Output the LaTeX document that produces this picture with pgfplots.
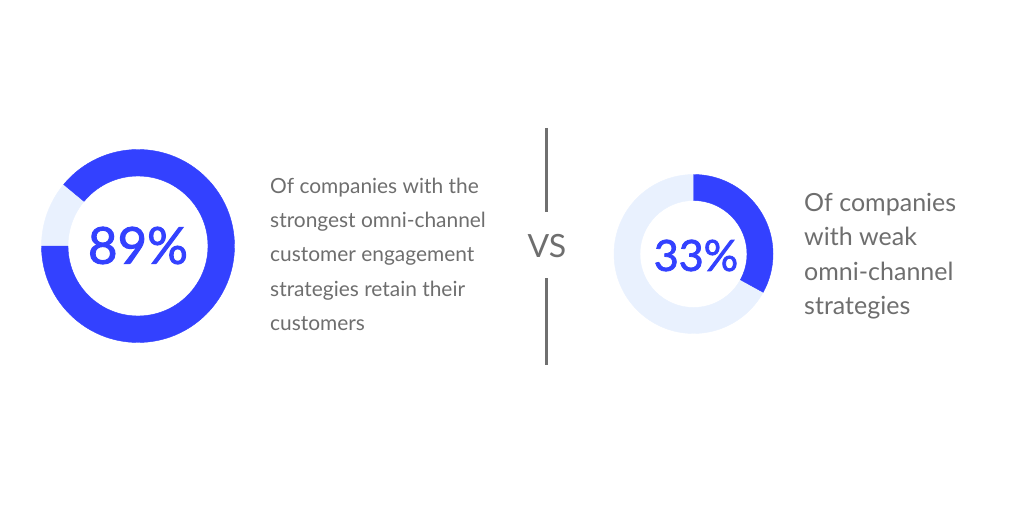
\documentclass[border=0pt]{standalone}
\usepackage{pgfplots}
\pgfplotsset{compat=1.18}
\usepackage{pgfplotstable}
\usepackage{fontspec}
\setmainfont{Lato}
\newfontfamily\numfont{Lato}[FakeBold=1.8]
\definecolor{donutblue}{HTML}{3341FF}
\definecolor{donutlight}{HTML}{E9F1FE}
\definecolor{txtgray}{HTML}{6E6E6E}
\definecolor{linegray}{HTML}{707070}

\pgfplotstableread{
x y pct rout rin start dir fs tx ty
138 266 89 96.5 70 180 1 51 0 0.5
693.5 258 33 79.5 53.5 90 -1 43 2.5 -1.5
}\donuts

\newcommand\donut{%
  \begin{tikzpicture}
    \pgfmathsetmacro\endang{\start+\dir*3.6*\pct}
    \fill[donutlight, even odd rule] (0,0) circle[radius=\rout*1pt] (0,0) circle[radius=\rin*1pt];
    \fill[donutblue] (\start:\rout*1pt) arc[start angle=\start, end angle=\endang, radius=\rout*1pt]
      -- (\endang:\rin*1pt) arc[start angle=\endang, end angle=\start, radius=\rin*1pt] -- cycle;
    \node[inner sep=0pt, text=donutblue, font=\numfont\fontsize{\fs}{\fs}\selectfont] at (\tx pt,\ty pt)
      {\pgfmathprintnumber[assume math mode=true]{\pct}\%};
  \end{tikzpicture}}

\begin{document}
\begin{tikzpicture}
\useasboundingbox (0,0) rectangle (1024pt,512pt);
\begin{axis}[at={(0pt,0pt)}, anchor=south west, scale only axis,
  width=1024pt, height=512pt, xmin=0, xmax=1024, ymin=0, ymax=512,
  hide axis, clip=false]
\addplot[only marks, mark=none,
  visualization depends on={\thisrow{rout} \as \rout},
  visualization depends on={\thisrow{rin} \as \rin},
  visualization depends on={\thisrow{start} \as \start},
  visualization depends on={\thisrow{dir} \as \dir},
  visualization depends on={\thisrow{pct} \as \pct},
  visualization depends on={\thisrow{fs} \as \fs},
  visualization depends on={\thisrow{tx} \as \tx},
  visualization depends on={\thisrow{ty} \as \ty},
  nodes near coords={\donut},
  every node near coord/.append style={anchor=center, inner sep=0pt},
] table[x=x, y=y] {\donuts};

% left description
\begin{scope}[every node/.style={anchor=base west, inner sep=0pt, text=txtgray, font=\fontsize{20.9}{24}\selectfont}]
\node at (axis cs:270,318) {Of companies with the};
\node at (axis cs:270,284) {strongest omni-channel};
\node at (axis cs:270,250) {customer engagement};
\node at (axis cs:270,216) {strategies retain their};
\node at (axis cs:270,182) {customers};
\end{scope}
% right description
\begin{scope}[every node/.style={anchor=base west, inner sep=0pt, text=txtgray, font=\fontsize{25}{28}\selectfont}]
\node at (axis cs:804,300) {Of companies};
\node at (axis cs:804,266) {with weak};
\node at (axis cs:804,232) {omni-channel};
\node at (axis cs:804,198) {strategies};
\end{scope}
% VS divider
\draw[linegray, line width=3pt] (axis cs:546,384) -- (axis cs:546,300);
\draw[linegray, line width=3pt] (axis cs:546,234) -- (axis cs:546,147);
\node[anchor=base, inner sep=0pt, text=txtgray, font=\fontsize{32}{36}\selectfont] at (axis cs:547,254) {VS};
\end{axis}
\end{tikzpicture}
\end{document}
